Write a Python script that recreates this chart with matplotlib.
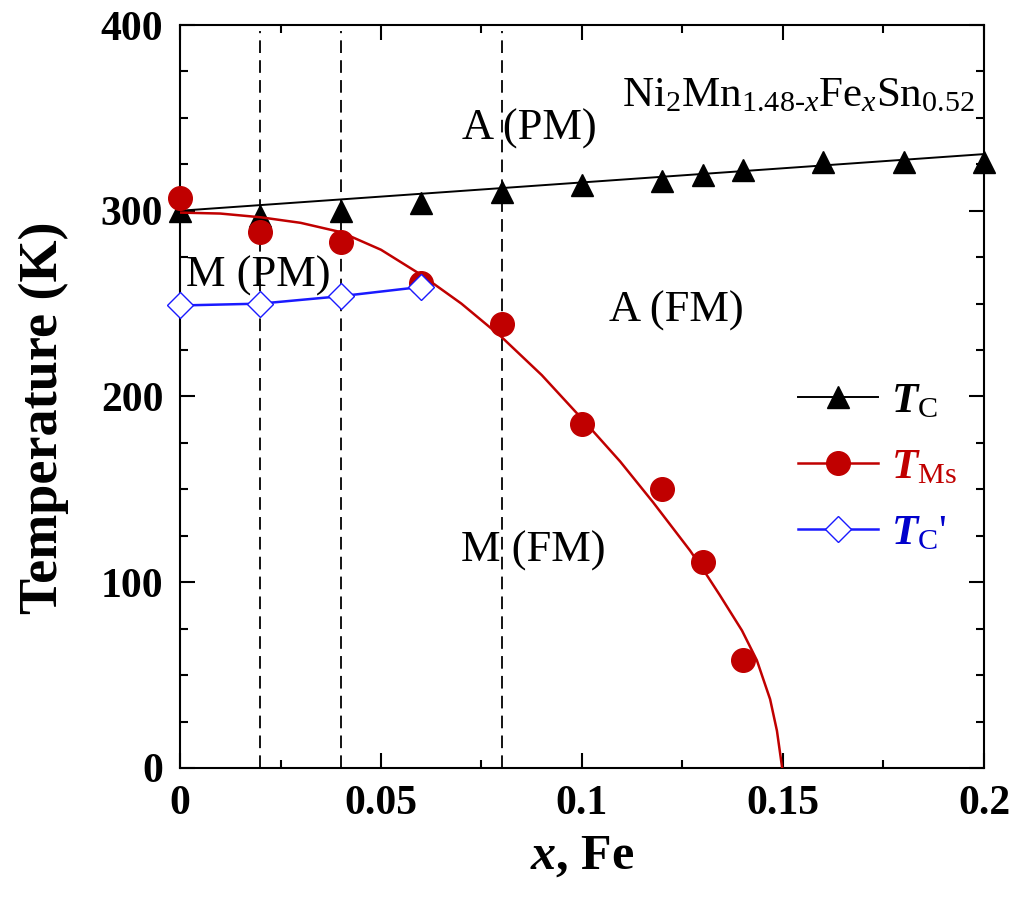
import numpy as np
import matplotlib
matplotlib.use("Agg")
import matplotlib.pyplot as plt
from matplotlib.lines import Line2D
from matplotlib.ticker import MultipleLocator

# Fonts: Times-like serif everywhere
plt.rcParams["font.family"] = ["Liberation Serif", "DejaVu Serif"]
plt.rcParams["mathtext.fontset"] = "custom"
plt.rcParams["mathtext.rm"] = "Liberation Serif"
plt.rcParams["mathtext.it"] = "Liberation Serif:italic"
plt.rcParams["mathtext.bf"] = "Liberation Serif:bold"
plt.rcParams["mathtext.bfit"] = "Liberation Serif:italic:bold"

# Curie temperature of austenite (T_C)
x_tc = [0.0, 0.02, 0.04, 0.06, 0.08, 0.10, 0.12, 0.13, 0.14, 0.16, 0.18, 0.20]
T_tc = [300, 297, 300, 304, 310, 314, 316, 319, 322, 326, 326, 326]
# linear fit line for T_C
x_tc_fit = [0.0, 0.20]
T_tc_fit = [300, 330.5]

# Martensite start temperature (T_Ms)
x_ms = [0.0, 0.02, 0.04, 0.06, 0.08, 0.10, 0.12, 0.13, 0.14]
T_ms = [307, 288.5, 283, 261, 239, 185, 150, 111, 58]
# guide curve for T_Ms
x_ms_fit = [0.0, 0.01, 0.02, 0.03, 0.04, 0.05, 0.06, 0.07, 0.08, 0.09, 0.10,
            0.1095, 0.1177, 0.1269, 0.131, 0.1343, 0.1398, 0.1435, 0.1468,
            0.1485, 0.1498]
T_ms_fit = [299, 298.5, 296.5, 293.5, 288.5, 279, 265.5, 250, 232, 211.5, 188,
            165, 143, 117, 104, 93, 74, 58, 37, 20, 0]

# Curie temperature of martensite (T_C')
x_tcp = [0.0, 0.02, 0.04, 0.06]
T_tcp = [249, 250, 254, 259]

# compositions where measurements were made (dashed lines)
x_dash = [0.02, 0.04, 0.08]

# phase region labels
region_labels = ["A (PM)", "A (FM)", "M (PM)", "M (FM)"]
region_x = [0.087, 0.1234, 0.0194, 0.0878]
region_T = [344, 246, 265, 117]

red = "#c00000"
blue = "#1a1aff"

fig = plt.figure(figsize=(10.24, 9.0), dpi=100)
ax = fig.add_axes([0.1758, 0.1467, 0.9609 - 0.1758, 0.9722 - 0.1467])

for xd in x_dash:
    ax.plot([xd, xd], [0, 397], "--", color="black", linewidth=1.3, dashes=(7, 4), zorder=1)

ax.plot(x_tc_fit, T_tc_fit, "-", color="black", linewidth=1.4, zorder=2)
ax.plot(x_tc, T_tc, "^", color="black", markersize=16, zorder=3, clip_on=False)

ax.plot(x_ms_fit, T_ms_fit, "-", color=red, linewidth=1.8, zorder=4)
ax.plot(x_ms, T_ms, "o", color=red, markersize=17, zorder=5, clip_on=False)

ax.plot(x_tcp, T_tcp, "-", color=blue, linewidth=1.8, zorder=6)
ax.plot(x_tcp, T_tcp, "D", markerfacecolor="white", markeredgecolor=blue,
        markeredgewidth=1.0, markersize=13, zorder=7, clip_on=False)

for lab, xr, Tr in zip(region_labels, region_x, region_T):
    ax.text(xr, Tr, lab, fontsize=32, ha="center", va="center", zorder=8)

ax.text(0.1978, 362, r"Ni$_2$Mn$_{1.48\text{-}\mathit{x}}$Fe$_\mathit{x}$Sn$_{0.52}$",
        fontsize=31, ha="right", va="center")

ax.set_xlim(0, 0.2)
ax.set_ylim(0, 400)
ax.xaxis.set_major_locator(MultipleLocator(0.05))
ax.xaxis.set_minor_locator(MultipleLocator(0.025))
ax.yaxis.set_major_locator(MultipleLocator(100))
ax.yaxis.set_minor_locator(MultipleLocator(25))
ax.set_xticks([0, 0.05, 0.1, 0.15, 0.2])
ax.set_xticklabels(["0", "0.05", "0.1", "0.15", "0.2"])
ax.tick_params(which="both", direction="in", top=True, right=True, width=1.5)
ax.tick_params(which="major", length=11, labelsize=30, pad=12)
ax.tick_params(which="minor", length=6)
for lab in ax.get_xticklabels() + ax.get_yticklabels():
    lab.set_fontweight("bold")
for sp in ax.spines.values():
    sp.set_linewidth(1.5)

ax.set_xlabel(r"$\mathbfit{x}$, Fe", fontsize=36, fontweight="bold", labelpad=8)
ax.set_ylabel("Temperature (K)", fontsize=39, fontweight="bold")
ax.yaxis.set_label_coords(-0.138, 0.471)

handles = [
    Line2D([], [], color="black", linewidth=1.4, marker="^", markersize=16),
    Line2D([], [], color=red, linewidth=1.8, marker="o", markersize=17),
    Line2D([], [], color=blue, linewidth=1.8, marker="D", markersize=13,
           markerfacecolor="white", markeredgecolor=blue, markeredgewidth=1.0),
]
labels = [r"$\mathbfit{T}_\mathrm{C}$", r"$\mathbfit{T}_\mathrm{Ms}$", r"$\mathbfit{T}_\mathrm{C}$'"]
leg = ax.legend(handles, labels, loc="upper left", bbox_to_anchor=(0.769, 0.519),
                frameon=False, fontsize=31, handlelength=1.85, handletextpad=0.3,
                labelspacing=0.62, borderpad=0, borderaxespad=0)
for txt, c in zip(leg.get_texts(), ["black", red, "#0000cc"]):
    txt.set_color(c)

fig.savefig("out.png", dpi=100)
